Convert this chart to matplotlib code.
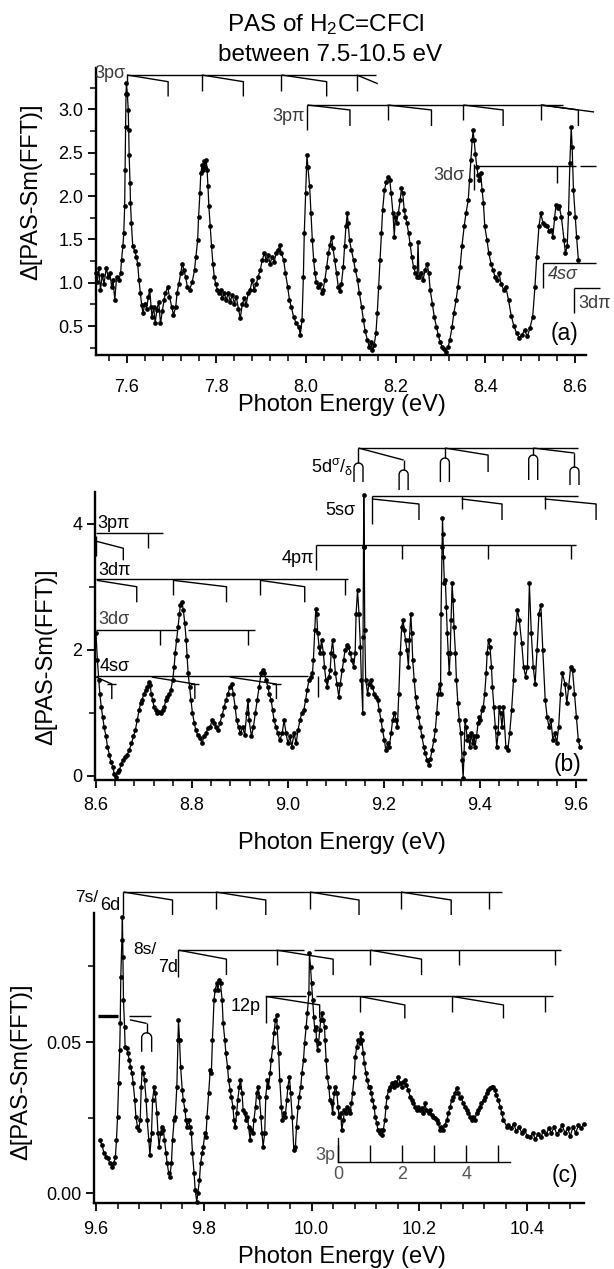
import numpy as np
import matplotlib
matplotlib.use("Agg")
import matplotlib.pyplot as plt
from matplotlib.ticker import MultipleLocator, FormatStrFormatter, FixedLocator, FixedFormatter

plt.rcParams['font.family'] = ['Liberation Sans', 'DejaVu Sans']
plt.rcParams['mathtext.fontset'] = 'custom'
plt.rcParams['mathtext.rm'] = 'Liberation Sans'
plt.rcParams['mathtext.it'] = 'Liberation Sans'
plt.rcParams['mathtext.default'] = 'rm'

# ---------------- spectrum (a): 7.53 - 8.61 eV ----------------
energy_a = [7.530, 7.534, 7.537, 7.541, 7.545, 7.549, 7.554, 7.558, 7.562, 7.566, 7.569, 7.573,
            7.577, 7.582, 7.586, 7.588, 7.591, 7.593, 7.595, 7.596, 7.597, 7.598, 7.599, 7.601,
            7.603, 7.604, 7.605, 7.607, 7.608, 7.610, 7.613, 7.618, 7.621, 7.624, 7.627, 7.630,
            7.633, 7.636, 7.640, 7.644, 7.648, 7.651, 7.654, 7.656, 7.660, 7.663, 7.667, 7.671,
            7.675, 7.679, 7.683, 7.686, 7.691, 7.695, 7.700, 7.704, 7.709, 7.712, 7.716, 7.720,
            7.724, 7.727, 7.731, 7.735, 7.740, 7.746, 7.751, 7.754, 7.758, 7.760, 7.763, 7.765,
            7.768, 7.770, 7.772, 7.775, 7.777, 7.779, 7.781, 7.783, 7.786, 7.789, 7.792, 7.795,
            7.798, 7.802, 7.805, 7.809, 7.813, 7.817, 7.822, 7.826, 7.831, 7.835, 7.840, 7.844,
            7.849, 7.853, 7.858, 7.862, 7.866, 7.871, 7.875, 7.880, 7.884, 7.889, 7.893, 7.898,
            7.902, 7.907, 7.911, 7.915, 7.920, 7.924, 7.929, 7.933, 7.938, 7.941, 7.945, 7.950,
            7.954, 7.959, 7.963, 7.967, 7.972, 7.978, 7.984, 7.987, 7.991, 7.994, 7.996, 7.999,
            8.001, 8.002, 8.004, 8.008, 8.011, 8.014, 8.017, 8.020, 8.023, 8.027, 8.031, 8.035,
            8.038, 8.042, 8.046, 8.050, 8.053, 8.057, 8.060, 8.064, 8.068, 8.072, 8.076, 8.079,
            8.083, 8.086, 8.089, 8.092, 8.094, 8.097, 8.101, 8.106, 8.110, 8.115, 8.119, 8.124,
            8.128, 8.132, 8.137, 8.141, 8.145, 8.148, 8.152, 8.156, 8.159, 8.162, 8.165, 8.168,
            8.171, 8.175, 8.179, 8.183, 8.187, 8.190, 8.194, 8.197, 8.199, 8.202, 8.206, 8.210,
            8.213, 8.216, 8.219, 8.222, 8.225, 8.229, 8.232, 8.236, 8.240, 8.244, 8.248, 8.250,
            8.252, 8.257, 8.261, 8.266, 8.270, 8.274, 8.277, 8.282, 8.286, 8.291, 8.295, 8.299,
            8.304, 8.308, 8.312, 8.317, 8.321, 8.326, 8.330, 8.335, 8.339, 8.344, 8.348, 8.353,
            8.357, 8.362, 8.365, 8.368, 8.371, 8.373, 8.375, 8.378, 8.381, 8.384, 8.387, 8.390,
            8.393, 8.396, 8.399, 8.404, 8.408, 8.413, 8.417, 8.422, 8.426, 8.431, 8.435, 8.441,
            8.446, 8.452, 8.458, 8.464, 8.470, 8.476, 8.482, 8.488, 8.494, 8.500, 8.506, 8.511,
            8.515, 8.520, 8.524, 8.529, 8.534, 8.538, 8.543, 8.547, 8.551, 8.555, 8.558, 8.562,
            8.565, 8.570, 8.576, 8.579, 8.583, 8.586, 8.589, 8.592, 8.594, 8.597, 8.601, 8.604,
            8.608]
signal_a = [1.11, 1.01, 1.17, 0.92, 1.09, 0.99, 1.17, 1.07, 1.11, 0.95, 1.03, 0.80,
            1.07, 1.03, 1.11, 1.26, 1.42, 1.57, 1.88, 2.30, 2.80, 3.18, 3.30, 3.18,
            2.99, 2.76, 2.47, 2.15, 1.92, 1.69, 1.42, 1.36, 1.30, 1.22, 1.03, 0.88,
            0.74, 0.65, 0.76, 0.70, 0.84, 0.92, 0.72, 0.61, 0.72, 0.53, 0.69, 0.78,
            0.53, 0.67, 0.80, 0.88, 0.95, 0.84, 0.72, 0.63, 0.72, 0.88, 0.99, 1.11,
            1.22, 1.15, 1.07, 0.95, 0.92, 1.01, 1.15, 1.30, 1.49, 1.76, 2.03, 2.26,
            2.36, 2.30, 2.40, 2.34, 2.42, 2.30, 2.11, 1.88, 1.65, 1.42, 1.22, 1.07,
            0.99, 0.92, 0.88, 0.92, 0.82, 0.88, 0.80, 0.88, 0.78, 0.86, 0.76, 0.84,
            0.70, 0.59, 0.76, 0.82, 0.74, 0.88, 0.92, 1.03, 0.92, 0.99, 1.07, 1.15,
            1.26, 1.34, 1.26, 1.32, 1.22, 1.30, 1.24, 1.34, 1.38, 1.43, 1.34, 1.26,
            1.11, 0.95, 0.80, 0.72, 0.61, 0.53, 0.49, 0.40, 0.57, 1.07, 1.57, 2.03,
            2.34, 2.47, 2.34, 2.11, 1.80, 1.49, 1.26, 1.11, 1.01, 0.95, 0.99, 0.88,
            0.92, 1.03, 1.18, 1.34, 1.43, 1.53, 1.40, 1.26, 1.11, 0.95, 0.90, 0.99,
            1.18, 1.42, 1.65, 1.80, 1.69, 1.49, 1.38, 1.26, 1.15, 1.03, 0.88, 0.72,
            0.57, 0.44, 0.34, 0.26, 0.32, 0.22, 0.28, 0.42, 0.65, 0.95, 1.26, 1.57,
            1.84, 2.07, 2.16, 2.22, 2.18, 2.03, 1.80, 1.53, 1.76, 1.69, 1.80, 1.95,
            2.09, 2.03, 1.84, 1.76, 1.69, 1.57, 1.45, 1.30, 1.18, 1.11, 1.07, 1.47,
            1.07, 1.11, 1.03, 1.15, 1.22, 1.11, 0.92, 0.76, 0.61, 0.49, 0.40, 0.32,
            0.26, 0.24, 0.20, 0.26, 0.34, 0.49, 0.65, 0.80, 0.95, 1.18, 1.42, 1.65,
            1.80, 1.95, 2.18, 2.42, 2.65, 2.76, 2.65, 2.49, 2.34, 2.24, 2.18, 2.26,
            2.07, 1.92, 1.65, 1.49, 1.34, 1.22, 1.15, 1.07, 1.03, 1.11, 0.99, 0.92,
            0.95, 0.80, 0.62, 0.50, 0.42, 0.36, 0.40, 0.45, 0.38, 0.48, 0.61, 0.95,
            1.30, 1.65, 1.80, 1.69, 1.66, 1.65, 1.60, 1.61, 1.53, 1.75, 1.90, 1.86,
            1.88, 1.76, 1.49, 1.34, 1.42, 1.80, 2.38, 2.80, 2.57, 2.07, 1.76, 1.53,
            1.26]

# ---------------- spectrum (b): 8.60 - 9.61 eV ----------------
energy_b = [8.600, 8.603, 8.606, 8.608, 8.611, 8.614, 8.617, 8.621, 8.624, 8.628, 8.631, 8.635,
            8.638, 8.642, 8.645, 8.649, 8.653, 8.657, 8.661, 8.665, 8.669, 8.674, 8.678, 8.682,
            8.686, 8.690, 8.693, 8.696, 8.700, 8.704, 8.707, 8.710, 8.713, 8.715, 8.718, 8.721,
            8.725, 8.728, 8.732, 8.735, 8.739, 8.742, 8.746, 8.749, 8.753, 8.756, 8.760, 8.763,
            8.765, 8.768, 8.771, 8.774, 8.776, 8.779, 8.782, 8.785, 8.788, 8.790, 8.792, 8.795,
            8.798, 8.801, 8.805, 8.808, 8.812, 8.817, 8.821, 8.825, 8.829, 8.833, 8.838, 8.842,
            8.846, 8.850, 8.854, 8.858, 8.863, 8.867, 8.871, 8.875, 8.879, 8.883, 8.886, 8.890,
            8.893, 8.897, 8.901, 8.906, 8.910, 8.914, 8.917, 8.919, 8.924, 8.928, 8.932, 8.936,
            8.940, 8.944, 8.947, 8.951, 8.954, 8.958, 8.961, 8.965, 8.968, 8.971, 8.975, 8.979,
            8.983, 8.988, 8.992, 8.996, 9.000, 9.004, 9.008, 9.013, 9.017, 9.021, 9.025, 9.029,
            9.033, 9.037, 9.040, 9.044, 9.047, 9.051, 9.053, 9.056, 9.058, 9.060, 9.062, 9.065,
            9.067, 9.070, 9.074, 9.076, 9.079, 9.082, 9.085, 9.088, 9.090, 9.093, 9.096, 9.099,
            9.102, 9.106, 9.109, 9.113, 9.116, 9.119, 9.123, 9.126, 9.130, 9.133, 9.137, 9.140,
            9.142, 9.145, 9.148, 9.151, 9.153, 9.156, 9.1565, 9.1575, 9.158, 9.159, 9.160, 9.162,
            9.166, 9.169, 9.173, 9.176, 9.180, 9.183, 9.187, 9.190, 9.194, 9.197, 9.201, 9.204,
            9.208, 9.211, 9.215, 9.218, 9.222, 9.225, 9.228, 9.231, 9.234, 9.237, 9.240, 9.242,
            9.245, 9.248, 9.251, 9.253, 9.256, 9.258, 9.260, 9.263, 9.266, 9.269, 9.272, 9.276,
            9.279, 9.283, 9.286, 9.290, 9.293, 9.297, 9.300, 9.304, 9.307, 9.310, 9.313, 9.316,
            9.318, 9.319, 9.321, 9.322, 9.323, 9.324, 9.326, 9.328, 9.330, 9.332, 9.334, 9.336,
            9.338, 9.340, 9.342, 9.344, 9.346, 9.349, 9.351, 9.354, 9.357, 9.360, 9.363, 9.365,
            9.367, 9.369, 9.371, 9.374, 9.376, 9.379, 9.382, 9.385, 9.388, 9.390, 9.393, 9.396,
            9.399, 9.401, 9.404, 9.407, 9.410, 9.413, 9.415, 9.418, 9.421, 9.424, 9.426, 9.429,
            9.432, 9.435, 9.438, 9.440, 9.443, 9.446, 9.449, 9.454, 9.458, 9.462, 9.466, 9.470,
            9.474, 9.478, 9.482, 9.487, 9.491, 9.495, 9.499, 9.503, 9.507, 9.511, 9.515, 9.519,
            9.523, 9.527, 9.531, 9.536, 9.540, 9.544, 9.548, 9.552, 9.556, 9.560, 9.564, 9.568,
            9.572, 9.577, 9.581, 9.585, 9.589, 9.593, 9.597, 9.601, 9.605, 9.608]
signal_b = [2.26, 1.83, 1.52, 1.30, 1.09, 0.93, 0.77, 0.62, 0.46, 0.33, 0.22, 0.14,
            0.03, -0.02, 0.06, 0.09, 0.19, 0.25, 0.30, 0.33, 0.40, 0.51, 0.62, 0.72,
            0.88, 1.04, 1.15, 1.20, 1.30, 1.36, 1.41, 1.49, 1.44, 1.30, 1.20, 1.09,
            1.04, 0.99, 1.01, 0.99, 1.04, 1.09, 1.20, 1.25, 1.30, 1.36, 1.52, 1.73,
            1.94, 2.15, 2.36, 2.57, 2.71, 2.76, 2.63, 2.42, 2.15, 1.89, 1.62, 1.41,
            1.20, 0.99, 0.83, 0.72, 0.64, 0.59, 0.51, 0.62, 0.67, 0.75, 0.77, 0.88,
            0.83, 0.77, 0.72, 0.83, 0.96, 1.09, 1.20, 1.30, 1.41, 1.46, 1.30, 1.09,
            0.88, 0.77, 0.67, 0.77, 0.64, 0.99, 1.20, 0.88, 0.62, 0.77, 0.99, 1.20,
            1.41, 1.62, 1.67, 1.62, 1.52, 1.41, 1.30, 1.20, 1.04, 0.88, 0.77, 0.67,
            0.56, 0.67, 0.88, 0.67, 0.51, 0.62, 0.46, 0.67, 0.51, 0.72, 0.88, 0.99,
            1.04, 1.20, 1.36, 1.52, 1.57, 1.62, 1.83, 2.31, 2.65, 2.57, 2.26, 2.04,
            1.94, 2.15, 1.94, 1.73, 1.52, 1.41, 1.57, 1.67, 1.94, 2.15, 1.89, 1.62,
            1.46, 1.25, 1.46, 1.67, 1.83, 1.99, 2.07, 2.04, 1.94, 1.83, 1.73, 1.94,
            2.57, 2.94, 2.57, 2.04, 1.52, 0.99, 2.20, 3.63, 4.45, 3.63, 2.31, 1.52,
            1.30, 1.46, 1.52, 1.41, 1.30, 1.25, 1.20, 1.04, 0.88, 0.72, 0.56, 0.40,
            0.51, 0.46, 0.67, 0.88, 0.99, 0.88, 0.77, 1.30, 1.94, 2.36, 2.47, 2.31,
            2.15, 1.99, 1.73, 2.15, 2.57, 2.26, 1.83, 1.52, 1.25, 1.09, 0.93, 0.77,
            0.62, 0.46, 0.35, 0.25, 0.17, 0.27, 0.40, 0.56, 0.72, 0.99, 1.30, 1.46,
            1.30, 2.57, 3.63, 4.08, 3.84, 3.47, 3.05, 3.10, 2.68, 2.26, 1.94, 1.62,
            1.94, 2.47, 3.05, 2.79, 2.36, 1.94, 1.52, 1.15, 0.88, 0.67, 0.25, -0.04,
            0.35, 0.88, 0.77, 0.56, 0.62, 0.46, 0.67, 0.51, 0.62, 0.46, 0.62, 0.83,
            0.93, 0.88, 1.04, 1.09, 1.30, 1.62, 1.94, 2.15, 2.04, 1.73, 1.41, 1.09,
            0.77, 0.46, 0.67, 1.09, 0.99, 0.77, 1.09, 0.46, 0.40, 0.67, 1.04, 1.52,
            2.26, 2.63, 2.47, 2.10, 1.73, 1.57, 1.73, 3.05, 2.26, 1.73, 1.46, 1.99,
            2.57, 2.70, 1.99, 1.20, 0.93, 0.77, 0.88, 0.56, 0.67, 0.51, 0.77, 1.30,
            1.62, 1.46, 1.15, 1.41, 1.73, 1.67, 1.30, 0.93, 0.56, 0.46]

# ---------------- spectrum (c): 9.60 - 10.51 eV ----------------
energy_c = [9.607, 9.611, 9.615, 9.619, 9.622, 9.626, 9.630, 9.633, 9.636, 9.638, 9.640, 9.642,
            9.644, 9.645, 9.646, 9.648, 9.649, 9.650, 9.651, 9.653, 9.654, 9.657, 9.659, 9.662,
            9.664, 9.667, 9.669, 9.672, 9.674, 9.677, 9.679, 9.682, 9.684, 9.686, 9.688, 9.690,
            9.693, 9.695, 9.698, 9.700, 9.703, 9.705, 9.708, 9.710, 9.713, 9.715, 9.717, 9.720,
            9.722, 9.725, 9.727, 9.730, 9.732, 9.735, 9.737, 9.740, 9.742, 9.745, 9.747, 9.750,
            9.752, 9.753, 9.755, 9.757, 9.760, 9.762, 9.765, 9.767, 9.769, 9.772, 9.774, 9.777,
            9.779, 9.782, 9.784, 9.787, 9.789, 9.792, 9.794, 9.797, 9.799, 9.802, 9.804, 9.806,
            9.809, 9.812, 9.814, 9.816, 9.819, 9.821, 9.824, 9.826, 9.829, 9.831, 9.834, 9.836,
            9.839, 9.841, 9.844, 9.846, 9.849, 9.851, 9.854, 9.856, 9.858, 9.861, 9.863, 9.866,
            9.868, 9.871, 9.873, 9.876, 9.878, 9.881, 9.883, 9.886, 9.888, 9.891, 9.893, 9.896,
            9.898, 9.901, 9.903, 9.906, 9.908, 9.910, 9.913, 9.915, 9.918, 9.920, 9.923, 9.925,
            9.928, 9.930, 9.933, 9.935, 9.936, 9.939, 9.941, 9.944, 9.946, 9.949, 9.951, 9.954,
            9.956, 9.959, 9.961, 9.964, 9.967, 9.970, 9.972, 9.975, 9.977, 9.980, 9.982, 9.985,
            9.987, 9.990, 9.992, 9.995, 9.996, 9.998, 10.000, 10.002, 10.004, 10.006, 10.008, 10.009,
            10.011, 10.013, 10.015, 10.017, 10.019, 10.022, 10.024, 10.025, 10.027, 10.029, 10.032, 10.034,
            10.037, 10.039, 10.042, 10.044, 10.047, 10.049, 10.051, 10.054, 10.056, 10.059, 10.061, 10.064,
            10.066, 10.069, 10.071, 10.074, 10.076, 10.079, 10.081, 10.084, 10.086, 10.089, 10.091, 10.093,
            10.096, 10.098, 10.101, 10.103, 10.106, 10.108, 10.111, 10.113, 10.116, 10.118, 10.121, 10.123,
            10.126, 10.128, 10.131, 10.133, 10.136, 10.138, 10.140, 10.143, 10.145, 10.149, 10.152, 10.155,
            10.158, 10.161, 10.164, 10.167, 10.170, 10.173, 10.176, 10.179, 10.183, 10.186, 10.189, 10.192,
            10.195, 10.198, 10.201, 10.204, 10.207, 10.210, 10.213, 10.217, 10.220, 10.223, 10.226, 10.229,
            10.232, 10.235, 10.238, 10.241, 10.244, 10.247, 10.251, 10.254, 10.257, 10.260, 10.263, 10.266,
            10.269, 10.272, 10.275, 10.278, 10.281, 10.284, 10.288, 10.291, 10.294, 10.297, 10.300, 10.303,
            10.306, 10.309, 10.312, 10.315, 10.319, 10.322, 10.325, 10.328, 10.331, 10.334, 10.337, 10.340,
            10.343, 10.346, 10.350, 10.353, 10.356, 10.362, 10.365, 10.370, 10.375, 10.380, 10.385, 10.390,
            10.395, 10.400, 10.405, 10.410, 10.415, 10.420, 10.425, 10.430, 10.435, 10.440, 10.445, 10.450,
            10.455, 10.460, 10.465, 10.470, 10.475, 10.480, 10.485, 10.490, 10.495, 10.500, 10.505]
signal_c = [0.0177, 0.0160, 0.0133, 0.0122, 0.0116, 0.0100, 0.0089, 0.0100, 0.0122, 0.0177, 0.0254, 0.0364,
            0.0474, 0.0562, 0.0716, 0.0837, 0.0914, 0.0782, 0.0639, 0.0551, 0.0485, 0.0480, 0.0463, 0.0441,
            0.0419, 0.0397, 0.0364, 0.0309, 0.0254, 0.0221, 0.0210, 0.0243, 0.0353, 0.0419, 0.0397, 0.0375,
            0.0309, 0.0243, 0.0177, 0.0127, 0.0199, 0.0309, 0.0353, 0.0331, 0.0265, 0.0199, 0.0155, 0.0199,
            0.0221, 0.0210, 0.0177, 0.0133, 0.0100, 0.0067, 0.0056, 0.0100, 0.0177, 0.0243, 0.0254, 0.0353,
            0.0507, 0.0573, 0.0507, 0.0419, 0.0342, 0.0309, 0.0276, 0.0243, 0.0221, 0.0243, 0.0221, 0.0199,
            0.0133, 0.0067, 0.0012, -0.0027, 0.0001, 0.0045, 0.0100, 0.0133, 0.0155, 0.0199, 0.0188, 0.0254,
            0.0331, 0.0408, 0.0397, 0.0507, 0.0639, 0.0672, 0.0694, 0.0672, 0.0705, 0.0694, 0.0639, 0.0562,
            0.0507, 0.0463, 0.0419, 0.0375, 0.0342, 0.0320, 0.0287, 0.0243, 0.0221, 0.0265, 0.0309, 0.0353,
            0.0375, 0.0331, 0.0276, 0.0265, 0.0243, 0.0254, 0.0221, 0.0177, 0.0210, 0.0199, 0.0243, 0.0287,
            0.0331, 0.0353, 0.0320, 0.0254, 0.0199, 0.0155, 0.0199, 0.0320, 0.0375, 0.0353, 0.0397, 0.0441,
            0.0485, 0.0529, 0.0573, 0.0590, 0.0551, 0.0463, 0.0375, 0.0287, 0.0243, 0.0265, 0.0254, 0.0309,
            0.0353, 0.0386, 0.0331, 0.0254, 0.0144, 0.0155, 0.0221, 0.0287, 0.0320, 0.0353, 0.0397, 0.0441,
            0.0496, 0.0551, 0.0595, 0.0661, 0.0794, 0.0749, 0.0694, 0.0639, 0.0584, 0.0540, 0.0551, 0.0507,
            0.0474, 0.0496, 0.0540, 0.0573, 0.0595, 0.0573, 0.0551, 0.0507, 0.0441, 0.0386, 0.0353, 0.0309,
            0.0298, 0.0265, 0.0331, 0.0353, 0.0331, 0.0287, 0.0254, 0.0265, 0.0210, 0.0243, 0.0276, 0.0265,
            0.0287, 0.0276, 0.0265, 0.0298, 0.0331, 0.0386, 0.0452, 0.0485, 0.0507, 0.0496, 0.0529, 0.0507,
            0.0463, 0.0430, 0.0397, 0.0375, 0.0353, 0.0353, 0.0331, 0.0309, 0.0287, 0.0254, 0.0232, 0.0210,
            0.0199, 0.0210, 0.0193, 0.0210, 0.0243, 0.0287, 0.0320, 0.0342, 0.0353, 0.0364, 0.0353, 0.0369,
            0.0358, 0.0386, 0.0364, 0.0353, 0.0369, 0.0375, 0.0358, 0.0342, 0.0320, 0.0309, 0.0298, 0.0287,
            0.0276, 0.0287, 0.0276, 0.0281, 0.0265, 0.0298, 0.0276, 0.0265, 0.0276, 0.0259, 0.0254, 0.0248,
            0.0243, 0.0232, 0.0210, 0.0221, 0.0210, 0.0226, 0.0243, 0.0265, 0.0287, 0.0309, 0.0320, 0.0331,
            0.0348, 0.0331, 0.0314, 0.0320, 0.0298, 0.0287, 0.0276, 0.0265, 0.0254, 0.0243, 0.0254, 0.0243,
            0.0265, 0.0276, 0.0287, 0.0298, 0.0309, 0.0320, 0.0331, 0.0342, 0.0348, 0.0353, 0.0353, 0.0342,
            0.0325, 0.0309, 0.0287, 0.0265, 0.0243, 0.0221, 0.0225, 0.0215, 0.0230, 0.0205, 0.0220, 0.0200,
            0.0210, 0.0190, 0.0185, 0.0200, 0.0180, 0.0195, 0.0185, 0.0205, 0.0195, 0.0215, 0.0200, 0.0220,
            0.0195, 0.0210, 0.0225, 0.0200, 0.0215, 0.0190, 0.0220, 0.0200, 0.0225, 0.0215, 0.0230]

# ---------------- Rydberg series assignments (eV) ----------------
# (a)
a_3psig_line = [(7.600, 8.157)]
a_3psig_ticks = [7.767, 7.945, 8.113]
a_3psig_hooks = [(7.600, 7.692), (7.767, 7.860), (7.945, 8.046)]
a_3psig_tails = [(8.113, 8.160)]
a_3ppi_line = [(8.003, 8.573)]
a_3ppi_start = 8.003
a_3ppi_ticks = [8.182, 8.351, 8.524]
a_3ppi_hooks = [(8.003, 8.098), (8.182, 8.280), (8.351, 8.440), (8.524, 8.608)]
a_3ppi_tails = [(8.524, 8.643)]
a_3dsig_line = [(8.377, 8.602), (8.612, 8.647)]
a_3dsig_start = 8.375
a_3dsig_ticks = [8.560]
a_4ssig_line = [(8.529, 8.647)]
a_3dpi_line = [(8.599, 8.657)]
# (b)
b_5d_line = [(9.147, 9.605)]
b_5d_forks = [9.147, 9.327, 9.511]
b_5d_hooks = [(9.147, 9.241), (9.327, 9.417), (9.511, 9.597)]
b_5ssig_line = [(9.176, 9.605)]
b_5ssig_start = 9.176
b_5ssig_ticks = [9.362, 9.535]
b_5ssig_hooks = [(9.176, 9.273), (9.362, 9.446), (9.535, 9.642)]
b_4ppi_line = [(9.058, 9.601)]
b_4ppi_start = 9.058
b_4ppi_ticks = [9.237, 9.417, 9.589]
b_3ppi_line = [(8.600, 8.740)]
b_3ppi_ticks = [8.709]
b_3ppi_hooks = [(8.601, 8.657)]
b_3dpi_line = [(8.600, 9.126)]
b_3dpi_ticks = [8.761, 8.942, 9.119]
b_3dpi_hooks = [(8.602, 8.685), (8.761, 8.872), (8.942, 9.035)]
b_3dsig_line = [(8.600, 8.768), (8.792, 8.931)]
b_3dsig_ticks = [8.733, 8.917]
b_4ssig_line = [(8.600, 9.042)]
b_4ssig_hooks = [(8.600, 8.633), (8.716, 8.806), (8.879, 8.976)]
b_4ssig_ticks = [9.062]
# (c)
c_7s_line = [(9.651, 10.353)]
c_7s_start = 9.651
c_7s_ticks = [9.822, 9.997, 10.166, 10.329]
c_7s_hooks = [(9.651, 9.742), (9.822, 9.915), (9.997, 10.088), (10.166, 10.259)]
c_8s_line = [(9.753, 9.986), (10.004, 10.462)]
c_8s_start = 9.753
c_8s_ticks = [9.935, 10.109, 10.273, 10.452]
c_8s_hooks = [(9.753, 9.842), (9.935, 10.040), (10.109, 10.204)]
c_12p_line = [(9.915, 9.990), (10.008, 10.448)]
c_12p_start = 9.915
c_12p_ticks = [10.089, 10.261, 10.433]
c_12p_hooks = [(9.915, 10.015), (10.089, 10.173), (10.261, 10.356)]
c_3p_dash = (9.604, 9.640)
c_3p_line = [(9.662, 9.702)]
c_3p_fork = 9.694
c_3p_scale_ticks = [0, 1, 2, 3, 4, 5]
c_3p_scale_labels = ['0', '', '2', '', '4', '']

# ---------------- figure ----------------
W, H = 614, 1269
fig = plt.figure(figsize=(W / 100, H / 100), dpi=100)


def rect(left, top, right, bottom):
    return [left / W, 1 - bottom / H, (right - left) / W, (bottom - top) / H]


def make_axes(r, xlim, ylim, xmaj, xmin, ymaj, ymin, yfmt, xpad):
    ax = fig.add_axes(r)
    ax.set_xlim(*xlim)
    ax.set_ylim(*ylim)
    ax.patch.set_alpha(0)
    for s in ('top', 'right'):
        ax.spines[s].set_visible(False)
    for s in ('left', 'bottom'):
        ax.spines[s].set_linewidth(1.7)
    ax.xaxis.set_major_locator(MultipleLocator(xmaj))
    ax.xaxis.set_minor_locator(MultipleLocator(xmin))
    ax.yaxis.set_major_locator(MultipleLocator(ymaj))
    ax.yaxis.set_minor_locator(MultipleLocator(ymin))
    ax.xaxis.set_major_formatter(FormatStrFormatter('%.1f'))
    ax.yaxis.set_major_formatter(FormatStrFormatter(yfmt))
    ax.tick_params(which='major', direction='out', length=6, width=1.3, labelsize=13)
    ax.tick_params(which='minor', direction='out', length=4, width=1.1)
    ax.tick_params(axis='x', which='major', pad=xpad)
    ax.tick_params(axis='y', which='major', pad=3)
    return ax


def dyp(ax, px):
    inv = ax.transData.inverted()
    return inv.transform((0, px))[1] - inv.transform((0, 0))[1]


def dxp(ax, px):
    inv = ax.transData.inverted()
    return inv.transform((px, 0))[0] - inv.transform((0, 0))[0]


LW = 1.0


def seg(ax, xs, ys, lw=LW):
    ax.plot(xs, ys, color='black', lw=lw, clip_on=False, solid_capstyle='butt', zorder=1)


def ladder(ax, level, segments, ticks=(), hooks=(), tails=(), tick_len=15, slant=7,
           drop=22, slant0=0, tee=0):
    for x0, x1 in segments:
        seg(ax, [x0, x1], [level, level])
    for x in ticks:
        seg(ax, [x, x], [level, level - dyp(ax, tick_len)])
    for xa, xb in hooks:
        seg(ax, [xa, xb, xb], [level - dyp(ax, slant0), level - dyp(ax, slant), level - dyp(ax, drop)])
        if tee:
            seg(ax, [xb - dxp(ax, tee), xb + dxp(ax, tee)], [level - dyp(ax, slant)] * 2)
    for xa, xb in tails:
        seg(ax, [xa, xb], [level, level - dyp(ax, slant + 2)])


def post(ax, x, level, length, start=0):
    seg(ax, [x, x], [level - dyp(ax, start), level - dyp(ax, length)])


def fork(ax, x, level, start, apex, end, r=4.5):
    seg(ax, [x, x], [level - dyp(ax, start), level - dyp(ax, apex)])
    t = np.linspace(0, np.pi, 25)
    xs = x + dxp(ax, r) * np.cos(t)
    ys = level - dyp(ax, apex + r) + dyp(ax, r) * np.sin(t)
    xs = np.concatenate([[x + dxp(ax, r)], xs, [x - dxp(ax, r)]])
    ys = np.concatenate([[level - dyp(ax, end)], ys, [level - dyp(ax, end)]])
    seg(ax, xs, ys)


def spectrum(ax, e, s):
    ax.plot(e, s, color='black', lw=0.9, marker='o', ms=3.4, mew=0, zorder=3, clip_on=False)


GREY = '#3c3c3c'
ylab = 'Δ[PAS-Sm(FFT)]'

# ----- panel (a) -----
axa = make_axes(rect(96, 68.3, 586, 355), (7.531, 8.625), (0.166, 3.473),
                0.2, 0.04, 0.5, 0.25, '%.1f', 11)
spectrum(axa, energy_a, signal_a)
lv = 3.396
ladder(axa, lv, a_3psig_line, a_3psig_ticks, a_3psig_hooks, a_3psig_tails,
       tick_len=16, slant=6.7, drop=21.5)
post(axa, 7.600, lv, 10)
axa.text(7.597, lv - dyp(axa, 3), '3pσ', ha='right', va='baseline', fontsize=13, color=GREY)
lv = 3.05
ladder(axa, lv, a_3ppi_line, a_3ppi_ticks, a_3ppi_hooks, a_3ppi_tails,
       tick_len=15, slant=5, drop=21)
post(axa, a_3ppi_start, lv, 25)
axa.text(7.998, 2.915, '3pπ', ha='right', va='center', fontsize=13, color=GREY)
lv = 2.346
ladder(axa, lv, a_3dsig_line, a_3dsig_ticks, tick_len=17)
post(axa, a_3dsig_start, lv, 24, start=-2)
axa.text(8.354, 2.24, '3dσ', ha='right', va='center', fontsize=13, color=GREY)
lv = 1.231
ladder(axa, lv, a_4ssig_line)
post(axa, a_4ssig_line[0][0], lv, 25.6)
axa.text(8.541, 1.09, '4sσ', ha='left', va='center', fontsize=13, color=GREY, style='italic')
lv = 0.935
ladder(axa, lv, a_3dpi_line)
post(axa, a_3dpi_line[0][0], lv, 25)
axa.text(8.607, 0.76, '3dπ', ha='left', va='center', fontsize=13, color=GREY)
axa.text(8.578, 0.41, '(a)', ha='center', va='center', fontsize=16.5)

# ----- panel (b) -----
axb = make_axes(rect(95, 491.7, 586, 780), (8.598, 9.621), (-0.071, 4.505),
                0.2, 0.04, 2, 1, '%d', 6)
spectrum(axb, energy_b, signal_b)
lv = 5.198
ladder(axb, lv, b_5d_line)
fork(axb, 9.147, lv, 0, 15, 34)
fork(axb, 9.327, lv, 0, 10, 34)
fork(axb, 9.511, lv, 0, 7, 32)
h1, h2, h3 = b_5d_hooks
seg(axb, [h1[0], h1[1]], [lv, lv - dyp(axb, 12)])
fork(axb, h1[1], lv, 12, 22, 42)
seg(axb, [h2[0], h2[1], h2[1]], [lv, lv - dyp(axb, 7), lv - dyp(axb, 24)])
seg(axb, [h3[0], h3[1]], [lv, lv - dyp(axb, 5)])
fork(axb, h3[1], lv, 5, 19, 37)
axb.text(9.136, 4.90, r'5d$^{\sigma}$/$_{\delta}$', ha='right', va='center', fontsize=13)

lv = 4.437
ladder(axb, lv, b_5ssig_line, b_5ssig_ticks, b_5ssig_hooks, tick_len=13, slant=8, drop=24,
       slant0=3)
post(axb, b_5ssig_start, lv, 28)
axb.text(9.140, 4.20, '5sσ', ha='right', va='center', fontsize=13)

lv = 3.659
ladder(axb, lv, b_4ppi_line, b_4ppi_ticks, tick_len=14)
post(axb, b_4ppi_start, lv, 25)
axb.text(9.054, 3.45, '4pπ', ha='right', va='center', fontsize=13)

lv = 3.845
ladder(axb, lv, b_3ppi_line, b_3ppi_ticks, b_3ppi_hooks, tick_len=15, slant=15, drop=27,
       slant0=8)
post(axb, 8.601, lv, 23, start=3)
axb.text(8.603, 4.0, '3pπ', ha='left', va='center', fontsize=13)

lv = 3.114
ladder(axb, lv, b_3dpi_line, b_3dpi_ticks, b_3dpi_hooks, tick_len=16, slant=7.4, drop=23,
       slant0=1)
axb.text(8.604, 3.26, '3dπ', ha='left', va='center', fontsize=13)

lv = 2.31
ladder(axb, lv, b_3dsig_line, b_3dsig_ticks, tick_len=15)
axb.text(8.604, 2.47, '3dσ', ha='left', va='center', fontsize=13, color=GREY)

lv = 1.579
ladder(axb, lv, b_4ssig_line, b_4ssig_ticks, b_4ssig_hooks, tick_len=21, slant=8, drop=23,
       slant0=1, tee=4.5)
axb.text(8.607, 1.73, '4sσ', ha='left', va='center', fontsize=13)
axb.text(9.583, 0.17, '(b)', ha='center', va='center', fontsize=16.5)

# ----- panel (c) -----
axc = make_axes(rect(94, 913.3, 584, 1203.3), (9.5963, 10.5054), (-0.00324, 0.09257),
                0.2, 0.04, 0.05, 0.025, '%.2f', 7)
spectrum(axc, energy_c, signal_c)
lv = 0.0996
ladder(axc, lv, c_7s_line, c_7s_ticks, c_7s_hooks, tick_len=17, slant=8, drop=23)
post(axc, c_7s_start, lv, 23)
axc.text(9.583, 0.0978, '7s/', ha='center', va='center', fontsize=12.5)
axc.text(9.626, 0.0952, '6d', ha='center', va='center', fontsize=13)

lv = 0.0804
ladder(axc, lv, c_8s_line, c_8s_ticks, c_8s_hooks, tick_len=15, slant=9, drop=25)
post(axc, c_8s_start, lv, 27)
axc.text(9.690, 0.0805, '8s/', ha='center', va='center', fontsize=12.5)
axc.text(9.733, 0.0745, '7d', ha='center', va='center', fontsize=13)

lv = 0.0651
ladder(axc, lv, c_12p_line, c_12p_ticks, c_12p_hooks, tick_len=16, slant=8.5, drop=22)
post(axc, c_12p_start, lv, 27)
axc.text(9.906, 0.0617, '12p', ha='right', va='center', fontsize=13)

lv = 0.0587
seg(axc, list(c_3p_dash), [lv, lv], lw=2.4)
ladder(axc, lv, c_3p_line)
seg(axc, [9.663, c_3p_fork], [lv - dyp(axc, 4), lv - dyp(axc, 7.6)])
fork(axc, c_3p_fork, lv, 7.6, 17, 36, r=5)
axc.text(10.47, 0.0061, '(c)', ha='center', va='center', fontsize=16.5)

# small 3p quantum-defect scale
axs = fig.add_axes(rect(338.3, 1138, 510, 1161.7))
axs.patch.set_alpha(0)
axs.set_xlim(0, 5.37)
axs.set_ylim(0, 1)
for s in ('top', 'right'):
    axs.spines[s].set_visible(False)
for s in ('left', 'bottom'):
    axs.spines[s].set_linewidth(1.0)
axs.set_yticks([])
axs.xaxis.set_major_locator(FixedLocator(c_3p_scale_ticks))
axs.xaxis.set_major_formatter(FixedFormatter(c_3p_scale_labels))
axs.tick_params(axis='x', direction='in', length=12, width=1.0, labelsize=13,
                labelcolor='#555555', pad=3)
fig.text(335 / W, 1 - 1155 / H, '3p', ha='right', va='center', fontsize=13, color='#555555')

# ----- titles and axis labels -----
fig.text(326 / W, 1 - 25 / H, 'PAS of H$_2$C=CFCl', ha='center', va='center', fontsize=17.5)
fig.text(330 / W, 1 - 55 / H, 'between 7.5-10.5 eV', ha='center', va='center', fontsize=17.5)
for yc in (405, 843, 1257):
    fig.text(342 / W, 1 - yc / H, 'Photon Energy (eV)', ha='center', va='center', fontsize=17)
for xc, yc in ((31, 192), (46, 657), (21, 1072)):
    fig.text(xc / W, 1 - yc / H, ylab, ha='center', va='center', rotation=90, fontsize=17)

fig.savefig('out.png', dpi=100)
